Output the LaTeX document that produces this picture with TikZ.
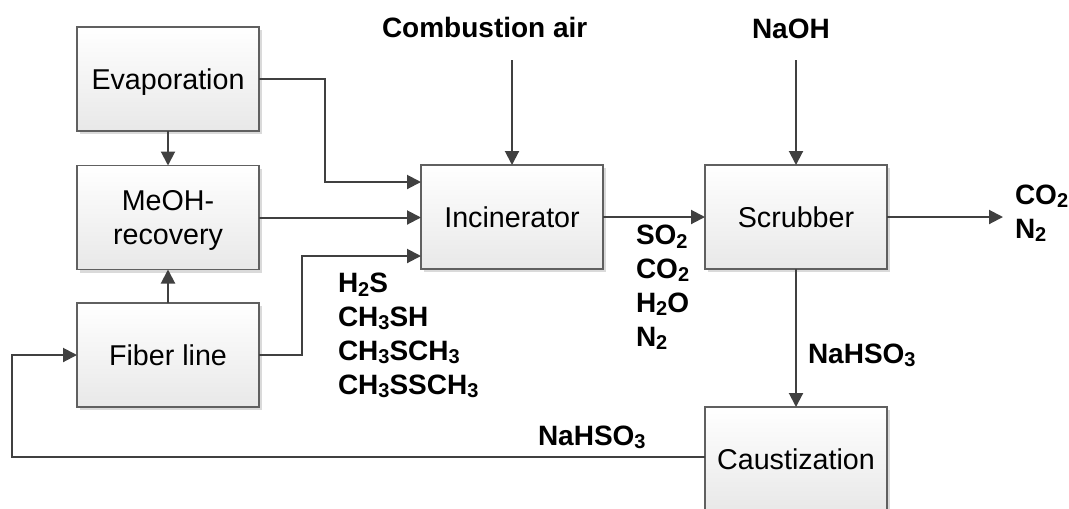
\documentclass[tikz,border=0pt]{standalone}
\usepackage{fontspec}
\setmainfont{Liberation Sans}
\usetikzlibrary{arrows.meta,shadows}
\newcommand\sbx[1]{\raisebox{-2.5pt}{\fontsize{15}{15}\selectfont #1}}
\definecolor{linec}{HTML}{404040}
\definecolor{boxline}{HTML}{606060}
\begin{document}
\begin{tikzpicture}[x=0.75pt,y=-0.75pt,
  procbox/.style={draw=boxline, line width=1.1pt, top color=white, bottom color=black!9,
    minimum width=136.5pt, minimum height=78pt, inner sep=0pt, outer sep=0pt,
    align=center, font=\fontsize{21.5}{25.3}\selectfont,
    drop shadow={shadow xshift=2.5pt, shadow yshift=-2.5pt, fill=black!18, opacity=0.8}},
  onebox/.style={procbox, text height=15.4pt, text depth=0pt},
  chem/.style={anchor=base west, inner sep=0pt, outer sep=0pt, align=left,
    font=\fontsize{21}{25.3}\selectfont\bfseries},
  flow/.style={draw=linec, line width=1.5pt, -{Triangle[length=10.5pt,width=10.5pt]}},
  plain/.style={draw=linec, line width=1.5pt}]
\useasboundingbox (0,0) rectangle (1069,508);

% boxes
\node[onebox] (evap) at (168,79) {Evaporation};
\node[procbox, text depth=0pt] (meoh) at (168,217.5) {MeOH-\\recovery};
\node[onebox] (fiber) at (168,355) {Fiber line};
\node[onebox] (inc) at (512,217) {Incinerator};
\node[onebox] (scr) at (796,217) {Scrubber};
\node[onebox] (caus) at (796,459) {Caustization};

% labels (base anchor = baseline of the last line)
\node[chem] (air) at (382,37) {Combustion air};
\node[chem] (naoh) at (752,38) {NaOH};
\node[chem] (gasin) at (338,394) {H\sbx{2}S\\CH\sbx{3}SH\\CH\sbx{3}SCH\sbx{3}\\CH\sbx{3}SSCH\sbx{3}};
\node[chem] (gasout) at (636,346) {SO\sbx{2}\\CO\sbx{2}\\H\sbx{2}O\\N\sbx{2}};
\node[chem] (stack) at (1015,238) {CO\sbx{2}\\N\sbx{2}};
\node[chem] (bis1) at (808,363) {NaHSO\sbx{3}};
\node[chem] (bis2) at (538,445) {NaHSO\sbx{3}};

% free ends
\coordinate (airin) at (512,60);
\coordinate (naohin) at (796,60);
\coordinate (stackout) at (1003,217);

% connectors
\draw[flow] (evap) -- (meoh);
\draw[flow] (fiber) -- (meoh);
\draw[flow] (evap.east) -- (325,79) -- (325,182) -- (inc.west |- 0,182);
\draw[flow] (meoh.east) -- (inc.west |- meoh.east);
\draw[flow] (fiber.east) -- (302,355) -- (302,256) -- (inc.west |- 0,256);
\draw[flow] (airin) -- (inc.north);
\draw[flow] (inc.east) -- (scr.west);
\draw[flow] (naohin) -- (scr.north);
\draw[flow] (scr.east) -- (stackout);
\draw[flow] (scr.south) -- (caus.north);
\draw[flow] (caus.west |- 0,457) -- (12,457) -- (12,355) -- (fiber.west);
\end{tikzpicture}
\end{document}
